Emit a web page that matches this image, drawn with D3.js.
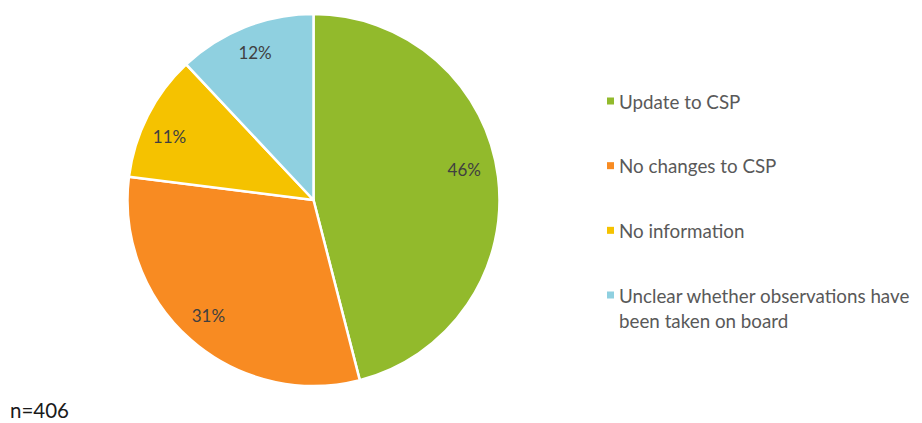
<!DOCTYPE html>
<html>
<head>
<meta charset="utf-8">
<script src="https://cdn.jsdelivr.net/npm/d3@7"></script>
<style>
  html, body { margin: 0; padding: 0; background: #ffffff; }
  svg { display: block; }
</style>
</head>
<body>
<svg id="chart" width="922" height="423"></svg>
<script>
// Outcome shares (percent), in drawing order clockwise from 12 o'clock
const categories = ["Update to CSP", "No changes to CSP", "No information", "Unclear whether observations have been taken on board"];
const legendLines = [["Update to CSP"], ["No changes to CSP"], ["No information"], ["Unclear whether observations have", "been taken on board"]];
const values = [46, 31, 11, 12];
const colors = ["#92BA2C", "#F88B22", "#F5C200", "#8FD0E0"];
const sampleNote = "n=406";

const svg = d3.select("#chart");
const font = "Lato, 'Open Sans', sans-serif";

const cx = 313.5, cy = 200, radius = 186, labelRadius = 156;
// small hand placement tweaks for the percentage labels
const labelNudge = [[-4, -11], [-2, -2], [-5, 7], [-1, -2]];

const pie = d3.pie().sort(null).value(d => d)(values);
const arc = d3.arc().innerRadius(0).outerRadius(radius);
const labelArc = d3.arc().innerRadius(labelRadius).outerRadius(labelRadius);

const g = svg.append("g").attr("transform", `translate(${cx},${cy})`);

g.selectAll("path.slice")
  .data(pie)
  .join("path")
  .attr("class", "slice")
  .attr("d", arc)
  .attr("fill", (d, i) => colors[i])
  .attr("stroke", "#ffffff")
  .attr("stroke-width", 2.5)
  .attr("stroke-linejoin", "round");

g.selectAll("text.pct")
  .data(pie)
  .join("text")
  .attr("class", "pct")
  .attr("transform", (d, i) => {
    const [x, y] = labelArc.centroid(d);
    return `translate(${x + labelNudge[i][0]},${y + labelNudge[i][1]})`;
  })
  .attr("text-anchor", "middle")
  .attr("dominant-baseline", "central")
  .attr("font-family", font)
  .attr("font-size", 17)
  .attr("fill", "#404040")
  .text(d => d.data + "%");

// Legend
const legendY = d3.scalePoint().domain(categories).range([101, 295]);
const legend = svg.append("g");
const items = legend.selectAll("g.item")
  .data(categories)
  .join("g")
  .attr("class", "item")
  .attr("transform", d => `translate(607,${legendY(d)})`);

items.append("rect")
  .attr("x", 0).attr("y", -3.5)
  .attr("width", 7).attr("height", 7)
  .attr("fill", (d, i) => colors[i]);

items.append("text")
  .attr("x", 12)
  .attr("font-family", font)
  .attr("font-size", 18.8)
  .attr("fill", "#595959")
  .selectAll("tspan")
  .data((d, i) => legendLines[i])
  .join("tspan")
  .attr("x", 12)
  .attr("y", (d, j) => j * 25.5)
  .attr("dominant-baseline", "central")
  .text(d => d);

// Sample size note, bottom-left
svg.append("text")
  .attr("x", 10).attr("y", 418)
  .attr("font-family", font)
  .attr("font-size", 20.5)
  .attr("fill", "#1a1a1a")
  .text(sampleNote);
</script>
</body>
</html>
